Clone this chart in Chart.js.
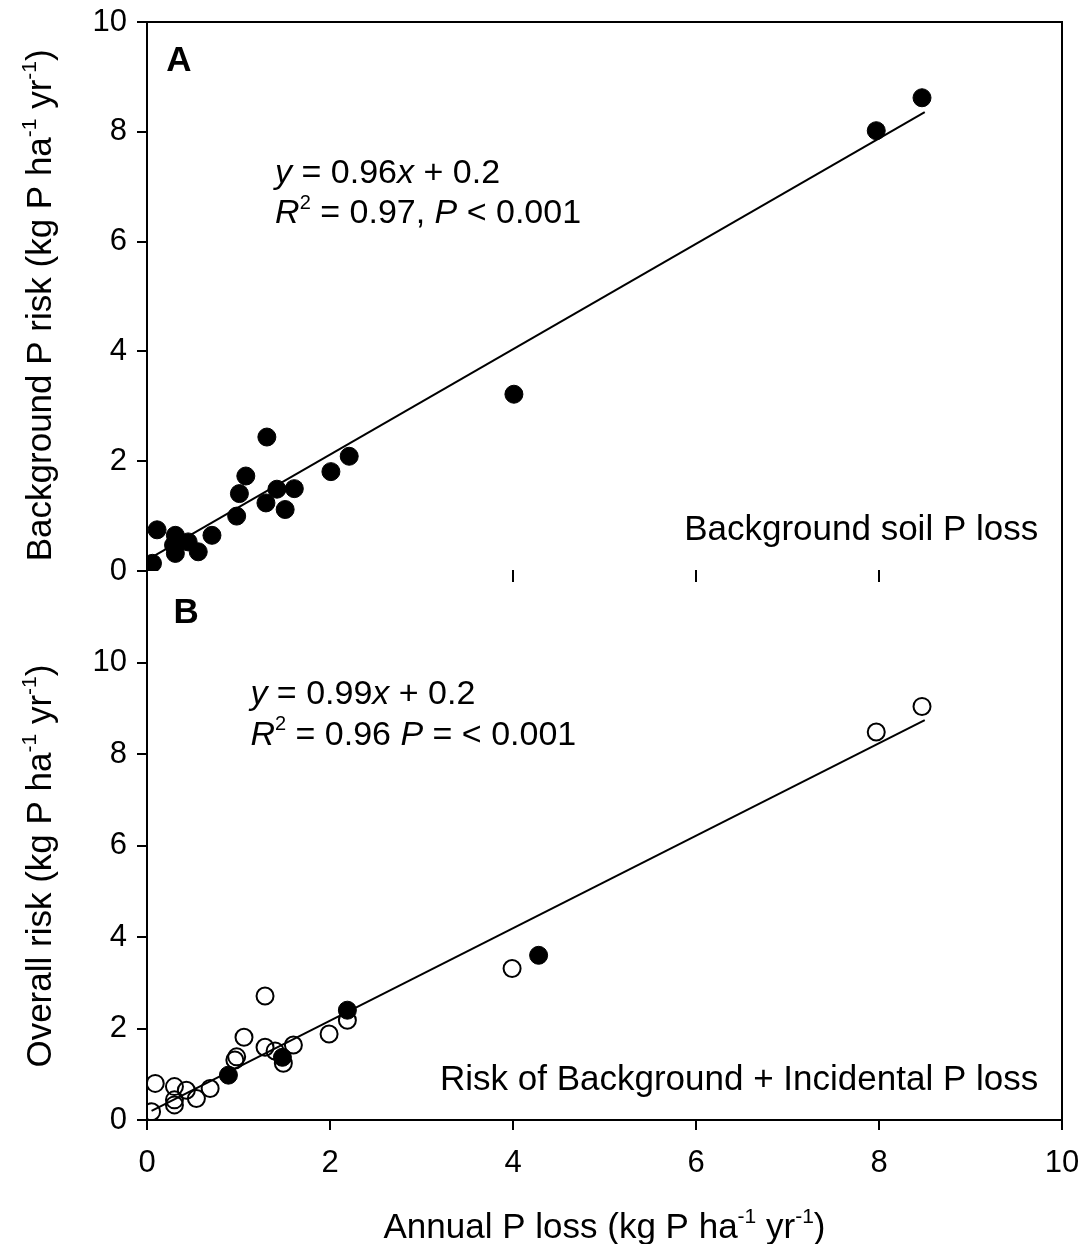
<!DOCTYPE html>
<html>
<head>
<meta charset="utf-8">
<script src="https://cdn.jsdelivr.net/npm/chart.js@4.4.1/dist/chart.umd.min.js"></script>
<style>
  body { margin: 0; background: #fff; }
  #chart { display: block; }
</style>
</head>
<body>
<canvas id="chart" width="1085" height="1244"></canvas>
<script>
// Panel A - background soil P loss (filled circles)
const aLossX = [0.06, 0.11, 0.31, 0.31, 0.29, 0.45, 0.56, 0.71, 0.98, 1.01, 1.08, 1.31, 1.30, 1.42, 1.51, 1.61, 2.01, 2.21, 4.01, 7.97, 8.47];
const aRiskY = [0.14, 0.75, 0.65, 0.32, 0.47, 0.53, 0.35, 0.65, 1.00, 1.41, 1.73, 2.44, 1.24, 1.49, 1.12, 1.50, 1.81, 2.09, 3.22, 8.02, 8.62];
const aFitX = [0.05, 8.5];
const aFitY = [0.25, 8.36];

// Panel B - background + incidental (open circles, plus some filled)
const bOpenX = [0.05, 0.09, 0.30, 0.30, 0.30, 0.43, 0.54, 0.69, 0.96, 0.98, 1.06, 1.29, 1.29, 1.40, 1.49, 1.60, 1.99, 2.19, 3.99, 7.97, 8.47];
const bOpenY = [0.18, 0.80, 0.73, 0.44, 0.33, 0.65, 0.47, 0.69, 1.31, 1.38, 1.81, 2.71, 1.59, 1.51, 1.24, 1.64, 1.88, 2.18, 3.31, 8.48, 9.04];
const bFilledX = [0.89, 1.48, 2.19, 4.28];
const bFilledY = [0.98, 1.37, 2.40, 3.60];
const bFitX = [0.05, 8.5];
const bFitY = [0.2, 8.74];

// ticks
const xTicks = [0, 2, 4, 6, 8, 10];
const yTicks = [0, 2, 4, 6, 8, 10];
const aInnerTicks = [4, 6, 8];

const FONT = '"Liberation Sans", Arial, Helvetica, sans-serif';

const titleX = [{t: 'Annual P loss (kg P ha'}, {t: '-1', sup: true}, {t: ' yr'}, {t: '-1', sup: true}, {t: ')'}];
const titleA = [{t: 'Background P risk (kg P ha'}, {t: '-1', sup: true}, {t: ' yr'}, {t: '-1', sup: true}, {t: ')'}];
const titleB = [{t: 'Overall risk (kg P ha'}, {t: '-1', sup: true}, {t: ' yr'}, {t: '-1', sup: true}, {t: ')'}];
const eqA1 = [{t: 'y', i: true}, {t: ' = 0.96'}, {t: 'x', i: true}, {t: ' + 0.2'}];
const eqA2 = [{t: 'R', i: true}, {t: '2', sup: true}, {t: ' = 0.97, '}, {t: 'P', i: true}, {t: ' < 0.001'}];
const eqB1 = [{t: 'y', i: true}, {t: ' = 0.99'}, {t: 'x', i: true}, {t: ' + 0.2'}];
const eqB2 = [{t: 'R', i: true}, {t: '2', sup: true}, {t: ' = 0.96 '}, {t: 'P', i: true}, {t: ' = < 0.001'}];

function pts(xs, ys) {
    return xs.map((x, i) => ({ x, y: ys[i] }));
}

function fontFor(p, size) {
    const s = p.sup ? Math.round(size * 0.6) : size;
    return (p.i ? 'italic ' : '') + (p.b ? 'bold ' : '') + s + 'px ' + FONT;
}

// draws a run of mixed text (italic / superscript parts), y is the baseline
function drawRich(ctx, parts, x, y, size, align) {
    let w = 0;
    parts.forEach(p => {
        ctx.font = fontFor(p, size);
        p.w = ctx.measureText(p.t).width;
        w += p.w;
    });
    let cx = align === 'right' ? x - w : align === 'center' ? x - w / 2 : x;
    parts.forEach(p => {
        ctx.font = fontFor(p, size);
        ctx.fillText(p.t, cx, p.sup ? y - size * 0.42 : y);
        cx += p.w;
    });
}

const decorations = {
    id: 'decorations',
    afterDraw(chart) {
        const { ctx, chartArea, scales } = chart;
        const xs = scales.x, ya = scales.yA, yb = scales.yB;
        ctx.save();
        ctx.strokeStyle = '#000';
        ctx.fillStyle = '#000';
        ctx.lineWidth = 2;

        // frame top + right
        ctx.beginPath();
        ctx.moveTo(chartArea.left, chartArea.top);
        ctx.lineTo(chartArea.right, chartArea.top);
        ctx.lineTo(chartArea.right, chartArea.bottom);
        ctx.stroke();

        // short x ticks under panel A
        const yBase = ya.getPixelForValue(0);
        ctx.beginPath();
        aInnerTicks.forEach(v => {
            const px = xs.getPixelForValue(v);
            ctx.moveTo(px, yBase - 1);
            ctx.lineTo(px, yBase + 11);
        });
        ctx.stroke();

        ctx.textBaseline = 'alphabetic';
        const big = 35, eq = 34;

        // panel letters
        drawRich(ctx, [{t: 'A', b: true}], xs.getPixelForValue(0.21), ya.getPixelForValue(9.33) + 0.36 * big, big, 'left');
        drawRich(ctx, [{t: 'B', b: true}], xs.getPixelForValue(0.29), yb.getPixelForValue(11.14) + 0.36 * big, big, 'left');

        // equations
        drawRich(ctx, eqA1, xs.getPixelForValue(1.40), ya.getPixelForValue(7.29) + 0.36 * eq, eq, 'left');
        drawRich(ctx, eqA2, xs.getPixelForValue(1.40), ya.getPixelForValue(6.56) + 0.36 * eq, eq, 'left');
        drawRich(ctx, eqB1, xs.getPixelForValue(1.13), yb.getPixelForValue(9.37) + 0.36 * eq, eq, 'left');
        drawRich(ctx, eqB2, xs.getPixelForValue(1.13), yb.getPixelForValue(8.47) + 0.36 * eq, eq, 'left');

        // panel captions
        drawRich(ctx, [{t: 'Background soil P loss'}], xs.getPixelForValue(9.74), ya.getPixelForValue(0.8) + 0.36 * big, big, 'right');
        drawRich(ctx, [{t: 'Risk of Background + Incidental P loss'}], xs.getPixelForValue(9.74), yb.getPixelForValue(0.94) + 0.36 * big, big, 'right');

        // axis titles
        drawRich(ctx, titleX, xs.getPixelForValue(5), 1225 + 0.36 * big, big, 'center');

        ctx.save();
        ctx.translate(38, ya.getPixelForValue(4.84));
        ctx.rotate(-Math.PI / 2);
        drawRich(ctx, titleA, 0, 0.36 * big, big, 'center');
        ctx.restore();

        ctx.save();
        ctx.translate(38, yb.getPixelForValue(5.55));
        ctx.rotate(-Math.PI / 2);
        drawRich(ctx, titleB, 0, 0.36 * big, big, 'center');
        ctx.restore();

        ctx.restore();
    }
};

const tickFont = { family: FONT, size: 31 };

function yScale(max) {
    return {
        type: 'linear',
        position: 'left',
        stack: 'panels',
        stackWeight: 1,
        min: 0,
        max: max,
        afterBuildTicks: s => { s.ticks = yTicks.map(v => ({ value: v })); },
        afterFit: s => { s.width = 147; s.paddingTop = 0; s.paddingBottom = 0; },
        ticks: { color: '#000', font: tickFont, padding: 10 },
        grid: { display: true, drawOnChartArea: false, drawTicks: true, tickLength: 10, color: '#000', lineWidth: 2 },
        border: { display: true, color: '#000', width: 2 }
    };
}

const lineStyle = { type: 'line', showLine: true, borderColor: '#000', borderWidth: 2, pointRadius: 0, fill: false, tension: 0 };

new Chart(document.getElementById('chart'), {
    type: 'scatter',
    data: {
        datasets: [
            { ...lineStyle, label: 'Fit A', data: pts(aFitX, aFitY), yAxisID: 'yA' },
            { ...lineStyle, label: 'Fit B', data: pts(bFitX, bFitY), yAxisID: 'yB' },
            {
                label: 'Background soil P loss', data: pts(aLossX, aRiskY), yAxisID: 'yA',
                pointRadius: 9, pointBackgroundColor: '#000', pointBorderColor: '#000', pointBorderWidth: 1
            },
            {
                label: 'Overall risk', data: pts(bOpenX, bOpenY), yAxisID: 'yB',
                pointRadius: 8.5, pointBackgroundColor: 'rgba(0,0,0,0)', pointBorderColor: '#000', pointBorderWidth: 2
            },
            {
                label: 'Overall risk (filled)', data: pts(bFilledX, bFilledY), yAxisID: 'yB',
                pointRadius: 9, pointBackgroundColor: '#000', pointBorderColor: '#000', pointBorderWidth: 1
            }
        ]
    },
    options: {
        responsive: false,
        animation: false,
        devicePixelRatio: 1,
        layout: { padding: { top: 22, right: 23, left: 0, bottom: 0 } },
        plugins: { legend: { display: false }, tooltip: { enabled: false } },
        scales: {
            x: {
                type: 'linear',
                position: 'bottom',
                min: 0,
                max: 10,
                afterBuildTicks: s => { s.ticks = xTicks.map(v => ({ value: v })); },
                afterFit: s => { s.height = 124; s.paddingLeft = 0; s.paddingRight = 0; },
                ticks: { color: '#000', font: tickFont, padding: 15, maxRotation: 0 },
                grid: { display: true, drawOnChartArea: false, drawTicks: true, tickLength: 10, color: '#000', lineWidth: 2 },
                border: { display: true, color: '#000', width: 2 }
            },
            yB: yScale(12),
            yA: yScale(10)
        }
    },
    plugins: [decorations]
});
</script>
</body>
</html>
